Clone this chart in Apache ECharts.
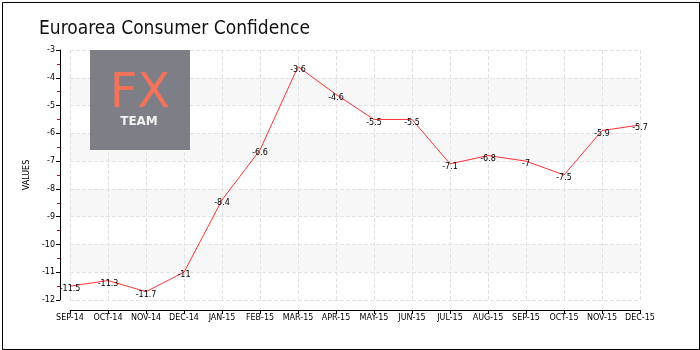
<!DOCTYPE html>
<html>
<head>
<meta charset="utf-8">
<script src="https://cdn.jsdelivr.net/npm/echarts@6/dist/echarts.min.js"></script>
<style>
html,body{margin:0;padding:0;background:#fff;}
#chart{width:700px;height:350px;}
</style>
</head>
<body>
<div id="chart"></div>
<script>
var categories = ['SEP-14','OCT-14','NOV-14','DEC-14','JAN-15','FEB-15','MAR-15','APR-15','MAY-15','JUN-15','JUL-15','AUG-15','SEP-15','OCT-15','NOV-15','DEC-15'];
var values = [-11.5, -11.3, -11.7, -11, -8.4, -6.6, -3.6, -4.6, -5.5, -5.5, -7.1, -6.8, -7, -7.5, -5.9, -5.7];
var yMin = -12, yMax = -3, yInterval = 1;
var titleText = 'Euroarea Consumer Confidence';
var yName = 'VALUES';

var chart = echarts.init(document.getElementById('chart'), null, {renderer: 'canvas'});
var font = 'DejaVu Sans';
chart.setOption({
  animation: false,
  backgroundColor: '#fff',
  title: {
    text: titleText,
    left: 34, top: 15,
    textStyle: {fontFamily: 'DejaVu Sans Condensed', fontSize: 19, fontWeight: 'normal', color: '#111'}
  },
  graphic: [
    {type: 'rect', left: 0, top: 0, z: 0, shape: {x: 0.5, y: 0.5, width: 697, height: 347}, style: {fill: 'none', stroke: '#000', lineWidth: 1}},
    {type: 'rect', z: 1, shape: {x: 90, y: 50, width: 100, height: 100}, style: {fill: 'rgba(115,115,125,0.92)'}},
    {type: 'text', z: 2, x: 140, y: 95, style: {text: 'FX', fill: '#f0735a', font: '48px "DejaVu Sans"', textAlign: 'center', textVerticalAlign: 'middle'}},
    {type: 'text', z: 2, x: 139, y: 122, style: {text: 'TEAM', fill: '#f2f2f2', font: 'bold 12px "DejaVu Sans"', textAlign: 'center', textVerticalAlign: 'middle'}}
  ],
  grid: {left: 70, right: 60, top: 50, bottom: 50},
  xAxis: {
    type: 'category',
    data: categories,
    boundaryGap: false,
    offset: 10,
    axisLine: {lineStyle: {color: '#000', width: 1}},
    axisTick: {show: true, length: 4, lineStyle: {color: '#000'}},
    axisLabel: {fontFamily: font, fontSize: 8, color: '#000', margin: 4, interval: 0},
    splitLine: {show: true, lineStyle: {color: '#e2e2e2', type: 'dashed'}}
  },
  yAxis: {
    type: 'value',
    min: yMin, max: yMax, interval: yInterval,
    offset: 10,
    name: yName,
    nameLocation: 'middle',
    nameGap: 25,
    nameTextStyle: {fontFamily: font, fontSize: 8, color: '#000'},
    axisLine: {show: true, lineStyle: {color: '#000', width: 1}},
    axisTick: {show: true, length: 4, lineStyle: {color: '#000'}},
    minorTick: {show: true, splitNumber: 2, length: 3, lineStyle: {color: '#e00000'}},
    axisLabel: {fontFamily: font, fontSize: 8, color: '#000', margin: 5},
    splitLine: {show: true, lineStyle: {color: '#e2e2e2', type: 'dashed'}},
    splitArea: {show: true, areaStyle: {color: ['rgba(255,255,255,0)', '#f7f7f7']}}
  },
  series: [{
    type: 'line',
    data: values,
    symbol: 'circle',
    symbolSize: 2,
    showSymbol: true,
    showAllSymbol: true,
    itemStyle: {color: 'rgba(255,51,51,0)', borderWidth: 0},
    lineStyle: {color: '#ff3333', width: 1},
    label: {show: true, position: 'bottom', distance: -2, fontFamily: font, fontSize: 8, color: '#000'},
    labelLayout: {hideOverlap: false},
    z: 3
  }]
});
</script>
</body>
</html>
